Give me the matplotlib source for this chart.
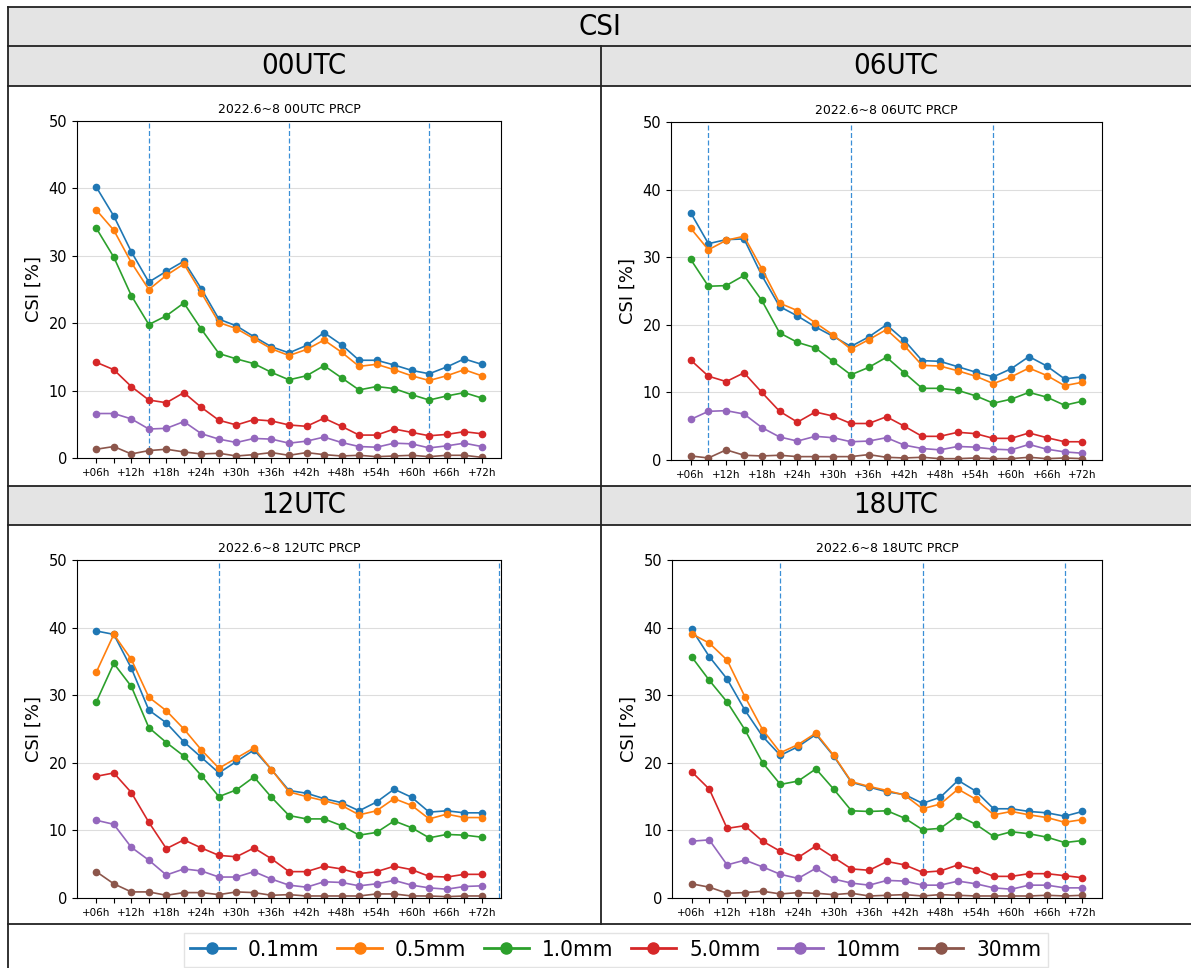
import matplotlib
matplotlib.use("Agg")
import matplotlib.pyplot as plt
from matplotlib.patches import Rectangle
from matplotlib.lines import Line2D

# lead times (h) and labels
lead_hours = [6, 9, 12, 15, 18, 21, 24, 27, 30, 33, 36, 39, 42, 45, 48, 51, 54, 57, 60, 63, 66, 69, 72]
tick_labels = ["+06h", "", "+12h", "", "+18h", "", "+24h", "", "+30h", "", "+36h", "", "+42h", "",
               "+48h", "", "+54h", "", "+60h", "", "+66h", "", "+72h"]
thresholds = ["0.1mm", "0.5mm", "1.0mm", "5.0mm", "10mm", "30mm"]
colors = ["#1f77b4", "#ff7f0e", "#2ca02c", "#d62728", "#9467bd", "#8c564b"]

# CSI [%] per threshold (rows) for each initial time
csi_00utc = [
    [40.2, 35.9, 30.6, 26.1, 27.7, 29.2, 25.1, 20.6, 19.6, 18.0, 16.5, 15.6, 16.7, 18.6, 16.8, 14.5, 14.5, 13.8, 13.0, 12.5, 13.5, 14.7, 13.9],
    [36.8, 33.8, 29.0, 25.0, 27.1, 28.8, 24.5, 20.1, 19.2, 17.7, 16.2, 15.2, 16.1, 17.5, 15.7, 13.6, 13.9, 13.1, 12.2, 11.5, 12.2, 13.1, 12.2],
    [34.1, 29.8, 24.1, 19.8, 21.1, 23.0, 19.1, 15.5, 14.7, 14.0, 12.7, 11.6, 12.2, 13.7, 11.9, 10.1, 10.6, 10.3, 9.4, 8.6, 9.2, 9.7, 8.9],
    [14.2, 13.1, 10.6, 8.6, 8.2, 9.7, 7.5, 5.6, 4.9, 5.7, 5.5, 4.9, 4.7, 5.9, 4.7, 3.4, 3.4, 4.3, 3.8, 3.3, 3.5, 3.9, 3.6],
    [6.6, 6.6, 5.8, 4.3, 4.4, 5.4, 3.6, 2.8, 2.3, 2.9, 2.8, 2.2, 2.5, 3.1, 2.3, 1.7, 1.6, 2.2, 2.1, 1.5, 1.8, 2.2, 1.7],
    [1.3, 1.7, 0.6, 1.1, 1.3, 0.9, 0.6, 0.7, 0.3, 0.5, 0.8, 0.4, 0.8, 0.5, 0.3, 0.4, 0.2, 0.3, 0.4, 0.2, 0.4, 0.4, 0.1],
]
csi_06utc = [
    [36.6, 32.0, 32.6, 32.7, 27.3, 22.7, 21.3, 19.7, 18.3, 16.8, 18.2, 20.0, 17.7, 14.7, 14.6, 13.8, 13.0, 12.3, 13.5, 15.3, 13.9, 12.0, 12.3],
    [34.3, 31.1, 32.5, 33.1, 28.3, 23.2, 22.1, 20.3, 18.5, 16.4, 17.8, 19.3, 16.9, 14.0, 13.9, 13.2, 12.4, 11.3, 12.3, 13.6, 12.5, 11.0, 11.5],
    [29.7, 25.7, 25.8, 27.3, 23.6, 18.8, 17.4, 16.6, 14.6, 12.6, 13.7, 15.2, 12.9, 10.6, 10.6, 10.3, 9.5, 8.4, 9.0, 10.0, 9.3, 8.1, 8.7],
    [14.8, 12.4, 11.6, 12.9, 10.0, 7.2, 5.6, 7.1, 6.5, 5.4, 5.4, 6.4, 5.0, 3.5, 3.5, 4.1, 3.9, 3.2, 3.2, 4.0, 3.3, 2.7, 2.7],
    [6.0, 7.2, 7.3, 6.8, 4.8, 3.4, 2.8, 3.5, 3.3, 2.7, 2.8, 3.3, 2.2, 1.7, 1.5, 2.0, 1.9, 1.6, 1.5, 2.3, 1.6, 1.2, 1.0],
    [0.6, 0.3, 1.5, 0.7, 0.6, 0.7, 0.5, 0.5, 0.5, 0.5, 0.8, 0.4, 0.3, 0.4, 0.2, 0.2, 0.3, 0.2, 0.2, 0.4, 0.2, 0.3, 0.2],
]
csi_12utc = [
    [39.5, 39.0, 34.0, 27.8, 25.9, 23.1, 20.8, 18.5, 20.2, 21.9, 19.0, 15.9, 15.5, 14.7, 14.1, 12.9, 14.2, 16.1, 14.9, 12.7, 12.9, 12.6, 12.6],
    [33.4, 39.0, 35.3, 29.7, 27.7, 25.0, 21.9, 19.2, 20.7, 22.2, 19.0, 15.7, 15.0, 14.4, 13.7, 12.3, 12.9, 14.7, 13.7, 11.7, 12.4, 11.9, 11.9],
    [29.0, 34.7, 31.3, 25.2, 23.0, 21.0, 18.1, 15.0, 16.0, 17.9, 14.9, 12.2, 11.7, 11.7, 10.7, 9.3, 9.7, 11.4, 10.4, 8.9, 9.4, 9.3, 9.0],
    [18.0, 18.5, 15.6, 11.2, 7.3, 8.6, 7.4, 6.3, 6.1, 7.4, 5.8, 3.9, 3.9, 4.7, 4.3, 3.6, 3.9, 4.7, 4.2, 3.2, 3.1, 3.5, 3.5],
    [11.5, 10.9, 7.5, 5.6, 3.4, 4.3, 4.0, 3.1, 3.1, 3.9, 2.8, 1.9, 1.6, 2.4, 2.3, 1.8, 2.1, 2.6, 1.9, 1.5, 1.3, 1.7, 1.8],
    [3.9, 2.1, 0.9, 0.9, 0.4, 0.8, 0.8, 0.5, 0.9, 0.8, 0.4, 0.5, 0.3, 0.3, 0.3, 0.3, 0.6, 0.6, 0.3, 0.3, 0.2, 0.3, 0.3],
]
csi_18utc = [
    [39.8, 35.7, 32.4, 27.8, 23.9, 21.1, 22.4, 24.2, 21.0, 17.1, 16.4, 15.7, 15.3, 14.0, 14.9, 17.4, 15.8, 13.2, 13.2, 12.8, 12.6, 12.1, 12.8],
    [39.1, 37.7, 35.2, 29.8, 24.9, 21.5, 22.7, 24.4, 21.1, 17.2, 16.5, 15.9, 15.2, 13.2, 13.9, 16.1, 14.6, 12.3, 12.8, 12.3, 11.9, 11.2, 11.6],
    [35.7, 32.2, 29.0, 24.9, 20.0, 16.8, 17.3, 19.1, 16.1, 12.9, 12.8, 12.9, 11.8, 10.1, 10.3, 12.2, 10.9, 9.1, 9.8, 9.5, 9.0, 8.2, 8.5],
    [18.7, 16.1, 10.3, 10.7, 8.4, 6.9, 6.0, 7.7, 6.0, 4.3, 4.1, 5.4, 4.9, 3.8, 4.0, 4.9, 4.2, 3.2, 3.2, 3.6, 3.6, 3.3, 3.0],
    [8.4, 8.6, 4.9, 5.6, 4.6, 3.5, 2.9, 4.4, 2.8, 2.2, 1.9, 2.6, 2.5, 1.9, 1.9, 2.5, 2.1, 1.5, 1.3, 1.9, 1.9, 1.5, 1.5],
    [2.1, 1.6, 0.7, 0.8, 1.0, 0.6, 0.8, 0.7, 0.5, 0.7, 0.3, 0.4, 0.5, 0.3, 0.5, 0.4, 0.3, 0.3, 0.3, 0.3, 0.4, 0.3, 0.4],
]

# 00KST reference lines (forecast hours) per initial time
kst_lines = {"00UTC": [15, 39, 63], "06UTC": [9, 33, 57], "12UTC": [27, 51, 75], "18UTC": [21, 45, 69]}

W, H = 1191, 968
fig = plt.figure(figsize=(W / 100, H / 100), dpi=100)

def fx(px):
    return px / W

def fy(py):
    return 1 - py / H

head_font = dict(family="DejaVu Sans", stretch="condensed", weight="light")
gray = "#e4e4e4"

# table background: header rows
for top, bot in [(7, 46), (46, 86), (486, 525)]:
    fig.patches.append(Rectangle((fx(8), fy(bot)), 1 - fx(8), fy(top) - fy(bot),
                                 transform=fig.transFigure, facecolor=gray, edgecolor="none", zorder=0))

# table lines
for py in [7, 46, 86, 486, 525, 924]:
    fig.lines.append(Line2D([fx(8), 1], [fy(py), fy(py)], transform=fig.transFigure, color="#222222", lw=1.3))
fig.lines.append(Line2D([fx(8), fx(8)], [fy(7), 0], transform=fig.transFigure, color="#222222", lw=1.3))
fig.lines.append(Line2D([fx(601), fx(601)], [fy(46), fy(924)], transform=fig.transFigure, color="#222222", lw=1.3))

fig.text(fx(600), fy(27), "CSI", ha="center", va="center", fontsize=21, **head_font)
for name, cx, cy in [("00UTC", 304, 66), ("06UTC", 896, 66), ("12UTC", 304, 505), ("18UTC", 896, 505)]:
    fig.text(fx(cx), fy(cy), name, ha="center", va="center", fontsize=21, **head_font)

panels = [
    ("00UTC", csi_00utc, (77, 121, 501, 458)),
    ("06UTC", csi_06utc, (671, 122, 1102, 460)),
    ("12UTC", csi_12utc, (77, 560, 501, 898)),
    ("18UTC", csi_18utc, (672, 560, 1102, 898)),
]

for name, data, (l, t, r, b) in panels:
    ax = fig.add_axes([fx(l), fy(b), fx(r) - fx(l), fy(t) - fy(b)])
    for i, vals in enumerate(data):
        ax.plot(lead_hours, vals, marker="o", color=colors[i], lw=1.2, markersize=4.5, label=thresholds[i])
    ax.set_ylim(0, 50)
    ax.set_xlim(2.7, 75.3)
    for xv in kst_lines[name]:
        ax.axvline(xv, color="#3a8fd6", ls=(0, (4, 2)), lw=0.9, zorder=1)
    ax.set_xticks(lead_hours)
    ax.set_xticklabels(tick_labels, fontsize=7.5)
    ax.tick_params(axis="y", labelsize=10.5)
    ax.set_yticks([0, 10, 20, 30, 40, 50])
    ax.grid(axis="y", color="#dddddd", lw=0.8)
    ax.set_axisbelow(True)
    ax.set_ylabel("CSI [%]", fontsize=13)
    ax.set_title("2022.6~8 " + name + " PRCP", fontsize=9)

handles = [Line2D([], [], color=c, marker="o", lw=2, markersize=8) for c in colors]
fig.legend(handles, thresholds, loc="center", ncol=6, bbox_to_anchor=(fx(616), fy(950)),
           prop=dict(size=16, **head_font), handlelength=2.0, columnspacing=0.8,
           handletextpad=0.6, frameon=True, fancybox=False, edgecolor="#dddddd", borderpad=0.3)

fig.savefig("out.png", dpi=100)
